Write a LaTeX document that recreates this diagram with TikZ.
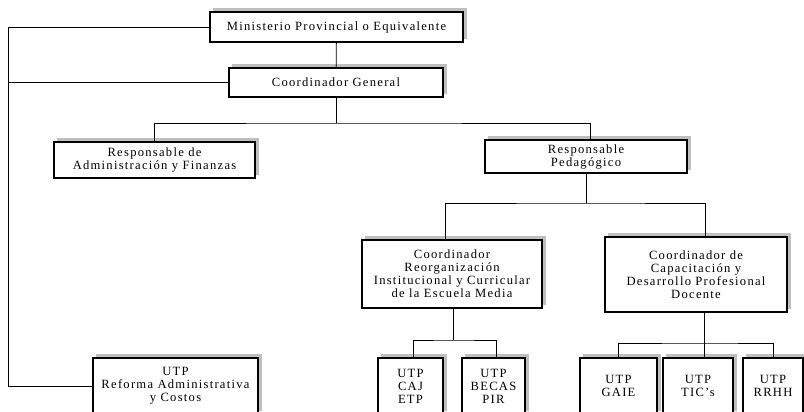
\documentclass[tikz,border=0pt]{standalone}
\usepackage{fontspec}
\setmainfont[LetterSpace=10]{Liberation Serif}
\usepackage{tikz}
\pgfdeclarelayer{bg}
\pgfsetlayers{bg,main}

\tikzset{
  unit/.style={draw, line width=1.3pt, fill=white, align=center, inner sep=2pt,
    font=\fontsize{12.6}{13}\selectfont},
  shade/.style={fill=gray!50},
  tie/.style={line width=0.8pt}
}

\begin{document}
\begin{tikzpicture}[x=1pt, y=-1pt]
  \useasboundingbox (0,0) rectangle (804,412);
  \clip (0,0) rectangle (804,412);

  \node (mpe) [unit, minimum width=253pt, minimum height=30pt] at (336.5,27) {Ministerio Provincial o Equivalente};
  \node (cg) [unit, minimum width=214pt, minimum height=29pt] at (336,82.5) {Coordinador General};

    \node (raf) [unit, minimum width=201pt, minimum height=36pt] at (154.5,160) {Responsable de\\Administración y Finanzas};
    \node (rp) [unit, minimum width=202pt, minimum height=33pt] at (586,156.5) {Responsable\\Pedagógico};

    \node (cri) [unit, minimum width=180pt, minimum height=68pt] at (452,274) {Coordinador\\Reorganización\\Institucional y Curricular\\de la Escuela Media};
    \node (ccd) [unit, minimum width=182pt, minimum height=75pt] at (696,274.5) {Coordinador de\\Capacitación y\\Desarrollo Profesional\\Docente};

  \node (utpra) [unit, minimum width=165pt, minimum height=56pt] at (175.5,386) {UTP\\Reforma Administrativa\\y Costos};
  \node (caj) [unit, minimum width=65pt, minimum height=56pt] at (410.5,386) {UTP\\CAJ\\ETP};
  \node (becas) [unit, minimum width=63pt, minimum height=56pt] at (493.5,386) {UTP\\BECAS\\PIR};
  \node (gaie) [unit, minimum width=77pt, minimum height=56pt] at (618.5,386) {UTP\\GAIE};
  \node (tics) [unit, minimum width=70pt, minimum height=56pt] at (698,386) {UTP\\TIC's};
  \node (rrhh) [unit, minimum width=60pt, minimum height=56pt] at (773,386) {UTP\\RRHH};

  \coordinate (lt) at (8,27);
  \coordinate (lb) at (8,386);
  \coordinate (cgbus) at (336,123);
  \coordinate (rpbus) at (586,203);
  \coordinate (cribus) at (453,340);
  \coordinate (ccdbus) at (704,343);

  \begin{pgfonlayer}{bg}
	  % shadows, up and to the right
	  \foreach \n in {mpe,cg,raf,rp,cri,ccd,utpra,caj,becas,gaie,tics,rrhh}
	    \fill[shade] ([shift={(3.5pt,3.5pt)}]\n.south west) rectangle ([shift={(3.5pt,3.5pt)}]\n.north east);

	  \draw[tie] (mpe.west) -- (lt) -- (lb) -- (utpra.west);
	  \draw[tie] (cg.west) -- (cg.west -| lt);
	  \draw[tie] (mpe) -- (cg);

	  \draw[tie] (cg.south) -- (cgbus);
	  \draw[tie] (raf.north) |- (cgbus) -| ([xshift=4pt]rp.north);

	  \draw[tie] (rp.south) -- (rpbus);
	  \draw[tie] ([xshift=-7pt]cri.north) |- (rpbus) -| ([xshift=9pt]ccd.north);

	  \draw[tie] (cri.south -| cribus) -- (cribus);
	  \draw[tie] ([xshift=3pt]caj.north) |- (cribus) -| ([xshift=3pt]becas.north);

	  \draw[tie] (ccd.south -| ccdbus) -- (ccdbus);
	  \draw[tie] (gaie.north) |- (ccdbus) -| (rrhh.north);
	  \draw[tie] (tics.north -| ccdbus) -- (ccdbus);
  \end{pgfonlayer}
\end{tikzpicture}
\end{document}
